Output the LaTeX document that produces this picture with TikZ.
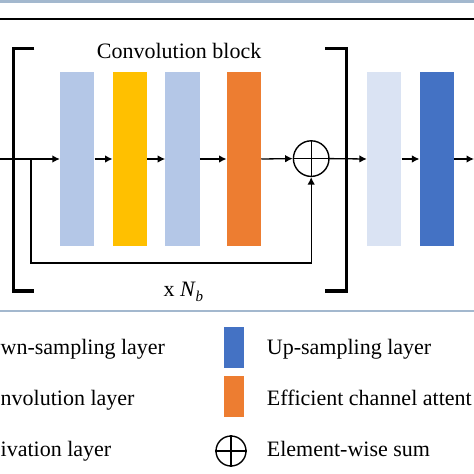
\documentclass[tikz,border=0pt]{standalone}
\usepackage{fontspec}
\setmainfont{Liberation Serif}
\usetikzlibrary{arrows.meta}
\definecolor{convblue}{HTML}{B4C7E7}
\definecolor{actyellow}{HTML}{FFC000}
\definecolor{ecaorange}{HTML}{ED7D31}
\definecolor{downblue}{HTML}{DAE3F3}
\definecolor{upblue}{HTML}{4472C4}
\definecolor{rulegray}{HTML}{A3B8CE}
\tikzset{
  layerbox/.style={rectangle, inner sep=0pt, minimum width=34.3pt, minimum height=174pt, draw=none},
  legbox/.style={rectangle, inner sep=0pt, minimum width=20pt, minimum height=41pt, draw=none},
  flow/.style={line width=1.3pt, -{Latex[length=7.5pt,width=7.5pt]}},
  plainline/.style={line width=1.3pt},
  bracketline/.style={line width=3.3pt, line join=miter, line cap=butt},
  sumnode/.style={circle, draw, line width=1.4pt, inner sep=0pt, minimum size=#1},
  lbl/.style={inner sep=0pt, font=\fontsize{22}{26}\selectfont},
}
\begin{document}
\begin{tikzpicture}[x=1pt,y=-1pt]
\useasboundingbox (0,0) rectangle (474,474);
% frame rules
\draw[rulegray, line width=3pt] (0,1.5) -- (474,1.5);
\draw[black, line width=1.5pt] (0,19) -- (474,19);
\draw[rulegray, line width=2.3pt] (0,311) -- (474,311);
% brackets
\draw[bracketline] (34.3,48.3) -| (13.3,291) -- (34.3,291);
\draw[bracketline] (325,48.3) -| (346.3,291) -- (325,291);
\node[lbl, anchor=base west] (title) at (96.7,58.3) {Convolution block};
\node[lbl, anchor=base west] (rep) at (163.3,296.5) {x \textit{N}\raisebox{-0.22em}{\fontsize{15}{15}\selectfont\textit{b}}};
% layers
\node[layerbox, fill=convblue] (r1) at (77.2,159) {};
\node[layerbox, fill=actyellow] (r2) at (129.9,159) {};
\node[layerbox, fill=convblue] (r3) at (182.5,159) {};
\node[layerbox, fill=ecaorange] (r4) at (243.9,159) {};
\node[sumnode=35.6pt] (sum) at (311.2,158.6) {};
\draw[plainline] (sum.north) -- (sum.south);
\draw[plainline] (sum.west) -- (sum.east);
\node[layerbox, fill=downblue] (r5) at (384.2,159) {};
\node[layerbox, fill=upblue] (r6) at (436.8,159) {};
\coordinate (in) at (0,159);
\coordinate (out) at (474,159);
\coordinate (br) at (31,159);
\coordinate (sk) at (31,263);
% connectors
\draw[flow] (in) -- (r1.west);
\draw[flow] (r1.east) -- (r2.west);
\draw[flow] (r2.east) -- (r3.west);
\draw[flow] (r3.east) -- (r4.west);
\draw[flow] (r4.east) -- (sum.west);
\draw[flow] (sum.east) -- (r5.west);
\draw[flow] (r5.east) -- (r6.west);
\draw[flow] (r6.east) -- (out);
\draw[flow] (br) -- (sk) -| (sum.south);
% legend
\node[lbl, anchor=base west] (l1) at (0.5,354) {wn-sampling layer};
\node[lbl, anchor=base west] (l2) at (0.5,405) {nvolution layer};
\node[lbl, anchor=base west] (l3) at (0.5,456.7) {ivation layer};
\node[legbox, fill=upblue] (k1) at (234.3,347) {};
\node[legbox, fill=ecaorange] (k2) at (234.3,396.7) {};
\node[sumnode=30pt] (k3) at (231,451) {};
\draw[plainline] (k3.north) -- (k3.south);
\draw[plainline] (k3.west) -- (k3.east);
\node[lbl, anchor=base west] (t1) at (266.7,354) {Up-sampling layer};
\node[lbl, anchor=base west] (t2) at (266.7,405) {Efficient channel attent};
\node[lbl, anchor=base west] (t3) at (266.7,456.7) {Element-wise sum};
\end{tikzpicture}
\end{document}
